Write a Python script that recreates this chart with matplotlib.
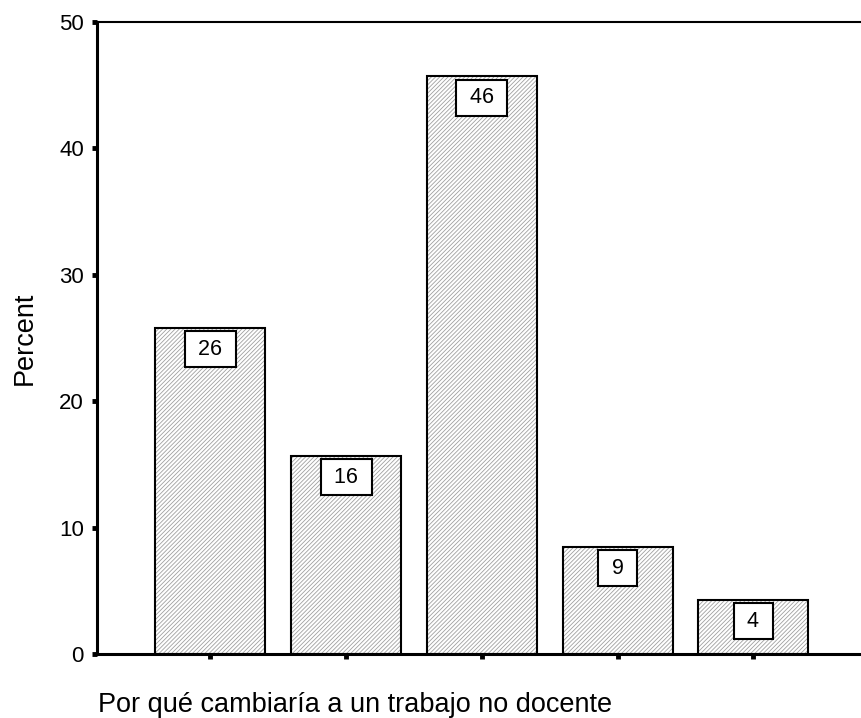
import matplotlib.pyplot as plt

plt.rcParams['font.family'] = ['Liberation Sans', 'DejaVu Sans']
plt.rcParams['hatch.linewidth'] = 0.6

categories = ["1", "2", "3", "4", "5"]
percent = [25.8, 15.7, 45.7, 8.5, 4.3]
labels = ["26", "16", "46", "9", "4"]
yticks = [0, 10, 20, 30, 40, 50]

W, H = 861, 718
fig = plt.figure(figsize=(W / 100, H / 100), dpi=100)
ax = fig.add_axes([97 / W, 1 - 654 / H, (885 - 97) / W, (654 - 22) / H])

x = list(range(len(categories)))
# hatched fill first (grey lines), then black outline on top
ax.bar(x, percent, 0.81, color='white', edgecolor='#a0a0a0',
       hatch='////////', linewidth=0)
ax.bar(x, percent, 0.81, fill=False, edgecolor='black', linewidth=1.5)

for xi, v, lab in zip(x, percent, labels):
    ax.annotate(f" {lab} ", (xi, v), xytext=(0, -15.5), textcoords='offset points',
                ha='center', va='center', fontsize=15.5,
                bbox=dict(boxstyle='square,pad=0.35', fc='white', ec='black', lw=1.5))

ax.set_xlim(-0.836, 4.97)
ax.set_ylim(0, 50)
ax.set_xticks(x)
ax.set_xticklabels([])
ax.set_yticks(yticks)
ax.set_yticklabels([str(t) for t in yticks], fontsize=16)
ax.tick_params(direction='out', length=3.5, width=3.5, pad=6)

ax.spines['right'].set_visible(False)
ax.spines['top'].set_linewidth(1.5)
ax.spines['left'].set_linewidth(2.2)
ax.spines['bottom'].set_linewidth(2.2)

fig.text(25 / W, 1 - 338 / H, "Percent", rotation=90, ha='center', va='center', fontsize=19.5)
fig.text(98 / W, 1 - 712 / H, "Por qué cambiaría a un trabajo no docente",
         ha='left', va='baseline', fontsize=19.5)

fig.savefig("out.png", dpi=100)
